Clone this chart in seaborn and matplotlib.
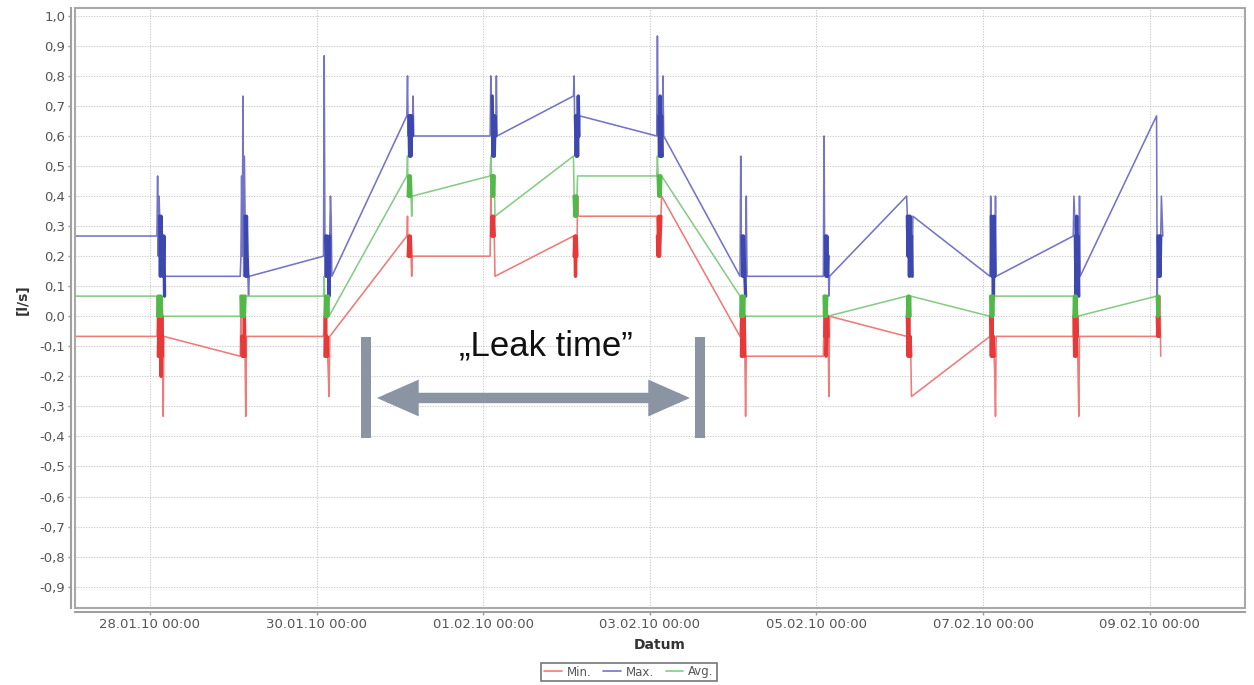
import pandas as pd
import seaborn as sns
import matplotlib.pyplot as plt
import matplotlib.dates as mdates
from matplotlib.lines import Line2D
from matplotlib.patches import Rectangle

# Nächtliche Messungen (Durchfluss in l/s), jeweils ab 02:00 Uhr
burst_days = pd.date_range('2010-01-28', '2010-02-09', freq='D')
start_time = pd.Timestamp('2010-01-27 02:24')
x_ticks = pd.date_range('2010-01-28', '2010-02-09', freq='2D')
y_ticks = [-0.9, -0.8, -0.7, -0.6, -0.5, -0.4, -0.3, -0.2, -0.1,
           0.0, 0.1, 0.2, 0.3, 0.4, 0.5, 0.6, 0.7, 0.8, 0.9, 1.0]

min_start = -0.067
max_start = 0.267
avg_start = 0.067

# je Nacht: (Anfang, dichter Block, Ende)
min_bursts = [
    ([-0.067, 0.0], [-0.133, 0.0, -0.133, -0.067, -0.2, 0.0, -0.133], [-0.333, -0.067]),
    ([-0.133, 0.0], [-0.067, -0.133, -0.067, -0.133, 0.0, -0.133], [-0.333, -0.067]),
    ([-0.067, 0.0], [-0.133, 0.0, -0.133, -0.067, -0.133], [-0.2, -0.267, -0.067]),
    ([0.267, 0.333], [0.2, 0.267, 0.2, 0.267, 0.2], [0.133, 0.2]),
    ([0.2, 0.4], [0.267, 0.333, 0.267, 0.333, 0.267], [0.133]),
    ([0.267], [0.2, 0.267, 0.133, 0.267, 0.2], [0.4, 0.333]),
    ([0.333], [0.267, 0.2, 0.333, 0.2, 0.267, 0.333], [0.4]),
    ([-0.067, 0.0], [-0.133, 0.0, -0.133, -0.067, 0.0, -0.133], [-0.333, -0.133]),
    ([-0.133, 0.0], [-0.067, 0.0, -0.133, -0.067, 0.0, -0.067], [-0.267, 0.0]),
    ([-0.067], [0.0, -0.133, 0.0, -0.133, -0.067, -0.133], [-0.267]),
    ([-0.067], [0.0, -0.133, 0.0, -0.133, -0.067, -0.133], [-0.2, -0.333, -0.067]),
    ([-0.067], [0.0, -0.133, 0.0, -0.133, 0.0, -0.067], [-0.2, -0.333, -0.067]),
    ([-0.067], [0.0, -0.067, 0.0, -0.067], [0.067, -0.133]),
]
max_bursts = [
    ([0.267, 0.467, 0.2, 0.4], [0.333, 0.133, 0.333, 0.2, 0.267, 0.133, 0.267, 0.067], [0.133]),
    ([0.133, 0.2, 0.467, 0.2, 0.733, 0.133, 0.533], [0.333, 0.133, 0.333, 0.2, 0.133], [0.067, 0.133]),
    ([0.2, 0.867, 0.267], [0.267, 0.133, 0.267, 0.133, 0.2, 0.067, 0.267], [0.4, 0.333, 0.133]),
    ([0.667, 0.8, 0.6], [0.667, 0.533, 0.667, 0.533, 0.667, 0.6], [0.733, 0.6]),
    ([0.6, 0.8, 0.6], [0.733, 0.533, 0.667, 0.533, 0.667, 0.6], [0.8, 0.6]),
    ([0.733, 0.8, 0.6], [0.667, 0.533, 0.667, 0.533, 0.733, 0.6], [0.667]),
    ([0.6, 0.933, 0.6], [0.667, 0.533, 0.733, 0.533, 0.667, 0.533], [0.8, 0.6]),
    ([0.133, 0.533, 0.2], [0.267, 0.133, 0.267, 0.2, 0.133, 0.067], [0.4, 0.133]),
    ([0.133, 0.6, 0.2], [0.267, 0.133, 0.267, 0.133, 0.2], [0.067, 0.133]),
    ([0.4], [0.333, 0.2, 0.333, 0.133, 0.333, 0.2, 0.267, 0.133], [0.333]),
    ([0.133, 0.4], [0.333, 0.133, 0.267, 0.067, 0.333, 0.133], [0.4, 0.133]),
    ([0.267, 0.4, 0.333], [0.267, 0.067, 0.333, 0.133, 0.267, 0.067], [0.4, 0.133]),
    ([0.667, 0.067], [0.267, 0.133, 0.267, 0.133, 0.267], [0.4, 0.333, 0.267]),
]
avg_bursts = [
    ([0.067], [0.0, 0.067, 0.0, 0.067, 0.0, 0.067, 0.0], [0.0]),
    ([0.0], [0.067, 0.0, 0.067, 0.0, 0.067, 0.0, 0.067], [0.067]),
    ([0.067, 0.133], [0.0, 0.067, 0.0, 0.067, 0.0, 0.067], [0.0]),
    ([0.467, 0.533], [0.4, 0.467, 0.4, 0.467, 0.4], [0.333, 0.4]),
    ([0.467, 0.533], [0.467, 0.4, 0.467, 0.4, 0.467], [0.333]),
    ([0.533], [0.4, 0.333, 0.4, 0.333, 0.4], [0.467]),
    ([0.467, 0.533], [0.467, 0.4, 0.467, 0.4, 0.467], [0.467]),
    ([0.067], [0.0, 0.067, 0.0, 0.067, 0.0, 0.067], [0.0]),
    ([0.0], [0.067, 0.0, 0.067, 0.0, 0.067], [0.0]),
    ([0.067], [0.0, 0.067, 0.0, 0.067, 0.0], [0.067]),
    ([0.0], [0.067, 0.0, 0.067, 0.0, 0.067], [0.067]),
    ([0.067], [0.0, 0.067, 0.0, 0.067, 0.0], [0.0]),
    ([0.067], [0.067, 0.0, 0.067], [0.067]),
]

reihen = ['Min.', 'Max.', 'Avg.']
farben_duenn = {'Min.': '#ef7a7a', 'Max.': '#7474c6', 'Avg.': '#86cc86'}
farben_block = {'Min.': '#e63a3a', 'Max.': '#3c48ae', 'Avg.': '#52b848'}


def tabelle(name, start, bursts):
    zeilen = [(start_time, start, name, 'linie', -1)]
    for k, (tag, (anfang, block, ende)) in enumerate(zip(burst_days, bursts)):
        werte = anfang + block + ende
        teile = ['anfang'] * len(anfang) + ['block'] * len(block) + ['ende'] * len(ende)
        for i, (w, t) in enumerate(zip(werte, teile)):
            zeit = tag + pd.Timedelta(hours=2) + i * pd.Timedelta(minutes=12)
            zeilen.append((zeit, w, name, t, k))
    return zeilen


rows = (tabelle('Min.', min_start, min_bursts)
        + tabelle('Max.', max_start, max_bursts)
        + tabelle('Avg.', avg_start, avg_bursts))
df = pd.DataFrame(rows, columns=['Zeit', 'Wert', 'Reihe', 'Teil', 'Nacht'])

sns.set_style('white')
plt.rcParams['font.family'] = ['DejaVu Sans']

fig = plt.figure(figsize=(12.54, 6.85), dpi=100)
ax = fig.add_axes([75 / 1254, 1 - 608 / 685, 1170 / 1254, 599.7 / 685])

sns.lineplot(data=df, x='Zeit', y='Wert', hue='Reihe', hue_order=reihen,
             palette=farben_duenn, estimator=None, sort=False, lw=1.15,
             legend=False, ax=ax)
block = df[df['Teil'] == 'block']
sns.lineplot(data=block, x='Zeit', y='Wert', hue='Reihe', hue_order=reihen,
             units='Nacht', palette=farben_block, estimator=None, sort=False,
             lw=2.4, legend=False, ax=ax)

# Achsen
ax.set_xlim(pd.Timestamp('2010-01-27 02:24'), pd.Timestamp('2010-02-10 03:29'))
ax.set_ylim(-0.971, 1.025)
ax.set_xticks(x_ticks)
ax.xaxis.set_major_formatter(mdates.DateFormatter('%d.%m.%y %H:%M'))
ax.set_yticks(y_ticks)
ax.set_yticklabels([f'{v + 0.0:.1f}'.replace('.', ',') for v in y_ticks])
ax.tick_params(axis='both', labelsize=9.5, labelcolor='#555555', color='#999999',
               length=2, width=1, pad=2, left=True, bottom=True)
ax.grid(True, color='#c4c4c4', lw=0.8, linestyle=(0, (1, 1.4)))

for s in ['top', 'right']:
    ax.spines[s].set_visible(False)
for s in ['left', 'bottom']:
    ax.spines[s].set_position(('outward', 3))
    ax.spines[s].set_color('#a0a0a0')
    ax.spines[s].set_linewidth(1.5)
ax.add_patch(Rectangle((0, 0), 1, 1, transform=ax.transAxes, fill=False,
                       ec='#a8a8a8', lw=1.5, clip_on=False, zorder=5))

ax.set_xlabel('Datum', fontsize=10, fontweight='bold', color='#333333')
ax.set_ylabel('[l/s]', fontsize=10, fontweight='bold', color='#333333')
ax.xaxis.set_label_coords(0.5, -0.05)
ax.yaxis.set_label_coords(-0.039, 0.514)

# "Leak time" Markierung
grau = '#8a94a3'
d = mdates.date2num
t_links = d(pd.Timestamp('2010-01-30 14:14'))
t_rechts = d(pd.Timestamp('2010-02-03 14:28'))
ax.vlines([t_links, t_rechts], -0.405, -0.068, color=grau, lw=7.2,
          capstyle='butt', zorder=6)
ax.annotate('', xy=(d(pd.Timestamp('2010-02-03 11:35')), -0.272),
            xytext=(d(pd.Timestamp('2010-01-30 17:24')), -0.272),
            arrowprops=dict(arrowstyle='<|-|>,head_length=1.7,head_width=0.75',
                            mutation_scale=10, lw=7.5, color=grau,
                            shrinkA=0, shrinkB=0, joinstyle='miter'),
            zorder=6)
ax.text(d(pd.Timestamp('2010-02-01 18:06')), -0.129, '\u201eLeak time\u201d',
        ha='center', va='baseline', fontsize=25, family='Liberation Sans',
        color='#111111', zorder=7)

# Legende
griffe = [Line2D([], [], color=farben_duenn[r], lw=1.2) for r in reihen]
leg = ax.legend(griffe, reihen, loc='center', bbox_to_anchor=(629 / 1254, 1 - 672 / 685),
                bbox_transform=fig.transFigure, ncol=3, frameon=True, fancybox=False,
                edgecolor='#555555', fontsize=8.5, handlelength=1.5,
                handletextpad=0.4, columnspacing=1.0, borderpad=0.25)
leg.get_frame().set_linewidth(1.2)
for txt in leg.get_texts():
    txt.set_color('#555555')

fig.savefig('out.png', dpi=100, facecolor='white')
